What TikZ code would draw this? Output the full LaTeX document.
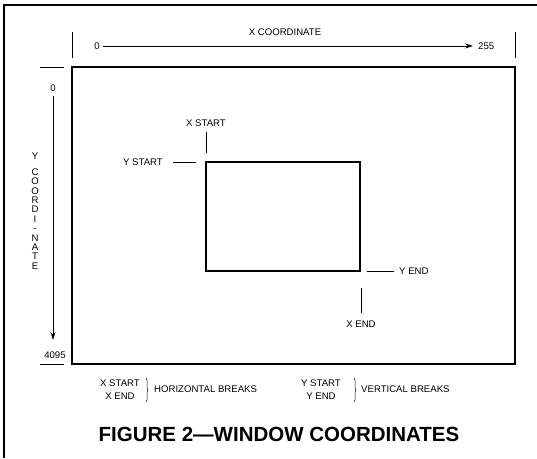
\documentclass[tikz,border=0pt]{standalone}
\usepackage{fontspec}
\setmainfont{Liberation Sans}
\usetikzlibrary{arrows.meta,decorations.pathreplacing}
\begin{document}
\begin{tikzpicture}[x=1pt,y=-1pt,
  lbl/.style={inner sep=0pt,font=\fontsize{9.6}{11}\selectfont},
  frameline/.style={line width=1.1pt},
  rectline/.style={line width=1.2pt},
  tick/.style={line width=0.7pt},
  axisarrow/.style={line width=0.7pt,-{Stealth[length=8pt,width=5pt]}},
  bracemark/.style={line width=0.5pt,decorate,decoration={brace,amplitude=2pt}}]
\useasboundingbox (0,0) rectangle (537,458);
% outer frame (top and left only visible)
\draw[frameline] (537,5) -- (4,5) -- (4,458);
% x coordinate
\draw[tick] (72,32) -- (72,58);
\draw[tick] (515,32) -- (515,58);
\node[lbl] (xc) at (285,32) {X COORDINATE};
\node[lbl] (x0) at (97,46) {0};
\node[lbl,anchor=west] (x255) at (478,46) {255};
\coordinate (xtip) at (473,46);
\draw[axisarrow] (x0.east) ++(3,0) -- (xtip);
% main rectangle
\draw[rectline] (72,67) rectangle (515,364);
\draw[tick] (40,67) -- (64,67);
\draw[tick] (40,364) -- (64,364);
% y coordinate
\node[lbl] (y0) at (53,88) {0};
\node[lbl] (y4095) at (55,355) {4095};
\coordinate (yend) at (53,340);
\draw[axisarrow] (y0.south) ++(0,4) -- (yend);
\node[lbl,align=center,font=\fontsize{9.6}{9.4}\selectfont,anchor=north] (yc) at (35,153)
  {Y\\[6pt]C\\O\\O\\R\\D\\I\\-\\N\\A\\T\\E};
% inner window
\draw[rectline] (206,162) rectangle (360,271);
\node[lbl] (xstart) at (206,123) {X START};
\draw[tick] (206,132) -- (206,153);
\node[lbl,anchor=east] (ystart) at (163,162) {Y START};
\draw[tick] (173,162) -- (196,162);
\node[lbl,anchor=west] (yendl) at (399,271) {Y END};
\draw[tick] (367,271) -- (394,271);
\node[lbl] (xendl) at (361,324) {X END};
\draw[tick] (361,288) -- (361,313);
% legend
\node[lbl] (lxs) at (120,383) {X START};
\node[lbl] (lxe) at (120,396) {X END};
\draw[bracemark] (146,378) -- (146,402);
\node[lbl,anchor=west] (hb) at (154,389) {HORIZONTAL BREAKS};
\node[lbl] (lys) at (321,383) {Y START};
\node[lbl] (lye) at (321,396) {Y END};
\draw[bracemark] (354,378) -- (354,402);
\node[lbl,anchor=west] (vb) at (361,389) {VERTICAL BREAKS};
% title
\node[inner sep=0pt,font=\fontsize{20.5}{24}\selectfont\bfseries] (title) at (279,434) {FIGURE 2—WINDOW COORDINATES};
\end{tikzpicture}
\end{document}
